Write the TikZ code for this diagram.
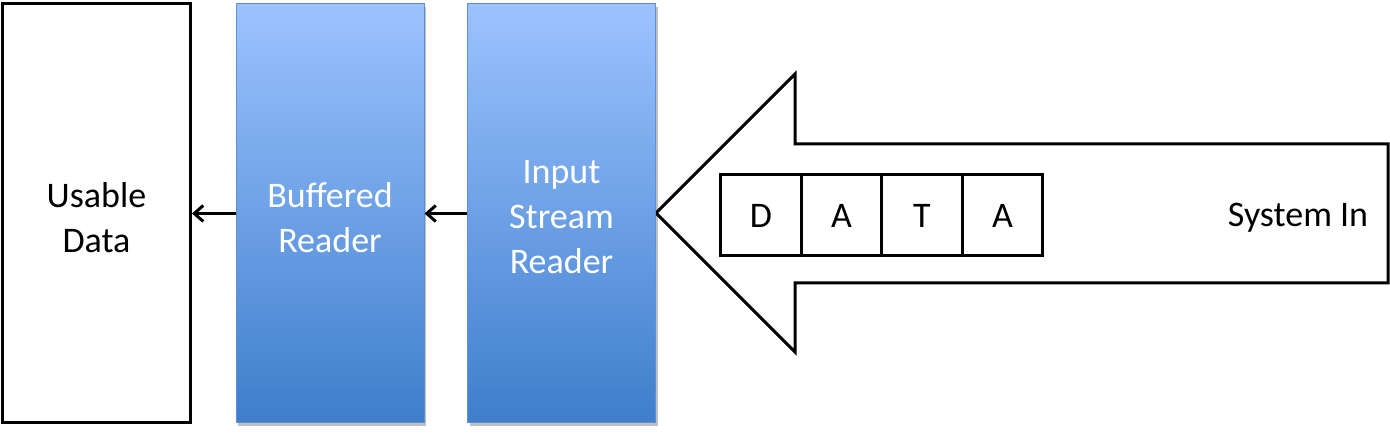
\documentclass[tikz,border=0pt]{standalone}
\usepackage{fontspec}
\setmainfont{Carlito}
\usetikzlibrary{arrows.meta,shadows}
\definecolor{bluetop}{HTML}{9CC3FF}
\definecolor{bluebot}{HTML}{3E7ECC}
\definecolor{blueedge}{HTML}{5F8FD6}
\tikzset{
  txt/.style={font=\fontsize{36}{45}\selectfont, align=center, inner sep=0pt},
  bluebox/.style={draw=blueedge, line width=1pt, top color=bluetop, bottom color=bluebot,
     minimum width=188pt, minimum height=419pt, inner sep=0pt,
     drop shadow={shadow xshift=2pt, shadow yshift=-3pt, opacity=0.25, fill=black}},
  whitebox/.style={draw=black, line width=3pt, fill=white, minimum width=188pt,
     minimum height=419pt, inner sep=0pt},
  letter/.style={draw=black, line width=3pt, minimum width=80.5pt, minimum height=81pt,
     inner sep=0pt, outer sep=0pt, font=\fontsize{36}{40}\selectfont},
  conn/.style={line width=3pt, -{Straight Barb[length=9pt,width=16pt,line width=3pt]}},
  bigarrow/.style={draw=black, line width=3pt, fill=white, line join=miter}
}
\begin{document}
\begin{tikzpicture}[x=1pt,y=-1pt]
\useasboundingbox (0,0) rectangle (1390,435);
% big arrow
\draw[bigarrow] (656,213) -- (795,74) -- (795,144) -- (1388,144) -- (1388,283) -- (795,283) -- (795,352) -- cycle;
\coordinate (tip) at (656,213);
% boxes
\node[whitebox] (usable) at (96.5,213.5) {};
\node[txt] (usabletxt) at (96.5,218) {Usable\\Data};
\node[bluebox] (buffered) at (330,213.5) {};
\node[txt, text=white] (bufferedtxt) at (330,218) {Buffered\\Reader};
\node[bluebox] (input) at (561.5,213.5) {};
\node[txt, text=white] (inputtxt) at (561.5,217) {Input\\Stream\\Reader};
% connectors
\draw[conn] (buffered.west) -- (usable.east);
\draw[conn] (input.west) -- (buffered.east);
% DATA
\node[letter] (d1) at (761,215.5) {D};
\node[letter, anchor=west] (d2) at (d1.east) {A};
\node[letter, anchor=west] (d3) at (d2.east) {T};
\node[letter, anchor=west] (d4) at (d3.east) {A};
\node[txt] (sysin) at (1298,218) {System In};
\end{tikzpicture}
\end{document}
